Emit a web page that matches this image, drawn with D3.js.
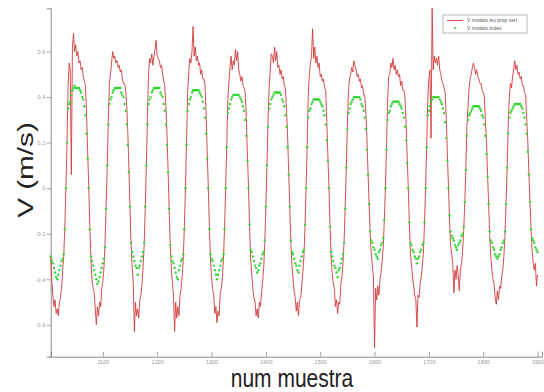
<!DOCTYPE html>
<html>
<head>
<meta charset="utf-8">
<script src="https://d3js.org/d3.v7.min.js"></script>
<style>
  body { margin: 0; background: #fff; }
  svg { display: block; font-family: "Liberation Sans", Arial, sans-serif; }
</style>
</head>
<body>
<div id="chart"></div>
<script>
const width = 544;
const height = 392;

// sample number (x) : one reading every 2 samples
const muestra = d3.range(1004, 1901, 2);

// V modelo ley prop vert (red line), m/s
const vLey = [
  -.30, -.41, -.47, -.52, -.49, -.55, -.53, -.56, -.50, -.48, -.44, -.36, -.30, -.17,
  .00, .20, .45, .55, .52, .06, .62, .68, .60, .63, .58, .60, .55, .56, .52, .53, .49, .47, .45, .33, .16, .01,
  -.17, -.31, -.40, -.44, -.46, -.53, -.60, -.52, -.56, -.50, -.52, -.44, -.41, -.35, -.24, -.08,
  .09, .29, .46, .50, .55, .60, .57, .58, .55, .56, .53, .54, .51, .52, .48, .46, .46, .43, .36, .24, .08,
  -.09, -.25, -.35, -.42, -.63, -.50, -.56, -.53, -.57, -.49, -.47, -.42, -.35, -.25, -.09,
  .09, .31, .50, .57, .55, .59, .54, .58, .61, .65, .58, .57, .56, .53, .54, .50, .47, .45, .36, .24, .08,
  -.09, -.25, -.35, -.42, -.47, -.63, -.50, -.57, -.52, -.56, -.47, -.44, -.39, -.31, -.17,
  .00, .20, .42, .50, .57, .55, .60, .71, .58, .62, .56, .58, .54, .55, .50, .52, .48, .48, .45, .33, .16, .01,
  -.17, -.31, -.39, -.44, -.47, -.55, -.52, -.59, -.54, -.56, -.46, -.44, -.39, -.31, -.17,
  .00, .19, .39, .47, .53, .58, .52, .56, .54, .61, .56, .60, .52, .50, .47, .49, .45, .44, .42, .31, .15, .01,
  -.17, -.31, -.38, -.44, -.48, -.50, -.56, -.53, -.57, -.50, -.52, -.46, -.41, -.35, -.24, -.08,
  .09, .30, .44, .52, .59, .58, .55, .62, .56, .60, .53, .54, .50, .52, .48, .49, .45, .44, .34, .23, .07,
  -.08, -.24, -.34, -.40, -.45, -.48, -.54, -.50, -.56, -.49, -.48, -.43, -.37, -.30, -.17,
  .00, .19, .41, .50, .55, .58, .70, .57, .62, .55, .58, .53, .55, .49, .50, .47, .48, .44, .43, .30, .15, .01,
  -.16, -.30, -.37, -.42, -.44, -.52, -.49, -.55, -.50, -.51, -.42, -.39, -.33, -.23, -.08,
  .08, .28, .42, .48, .50, .53, .51, .56, .54, .52, .49, .50, .47, .48, .44, .45, .41, .41, .33, .22, .07,
  -.07, -.20, -.29, -.34, -.39, -.70, -.44, -.49, -.43, -.47, -.40, -.37, -.32, -.26, -.14,
  .00, .18, .38, .49, .50, .55, .53, .57, .52, .54, .50, .52, .49, .50, .45, .47, .43, .43, .40, .29, .14, .01,
  -.15, -.28, -.34, -.39, -.43, -.47, -.49, -.61, -.47, -.48, -.42, -.39, -.34, -.28, -.15,
  .00, .19, .39, .48, .52, .22, .79, .52, .58, .55, .57, .54, .58, .52, .50, .47, .46, .44, .42, .31, .15, .01,
  -.14, -.25, -.29, -.33, -.46, -.36, -.40, -.34, -.38, -.45, -.36, -.33, -.28, -.19, -.07,
  .08, .27, .36, .44, .48, .50, .53, .55, .53, .50, .52, .49, .48, .46, .46, .43, .42, .40, .30, .20, .06,
  -.07, -.21, -.30, -.36, -.40, -.42, -.48, -.51, -.45, -.49, -.43, -.44, -.39, -.36, -.30, -.21, -.07,
  .08, .28, .40, .46, .44, .49, .52, .56, .52, .54, .50, .51, .48, .49, .45, .45, .42, .41, .31, .21, .07,
  -.06, -.18, -.27, -.33, -.36, -.33, -.43, -.38
];

// V modelo index (green dots), m/s
const vIndex = [
  -.30, -.32, -.33, -.35, -.37, -.39, -.40, -.38, -.36, -.34, -.32, -.31, -.29, -.18,
  .00, .20, .35, .37, .38, .41, .43, .44, .45, .44, .44, .44, .44, .43, .42, .40, .39, .36, .32, .24, .13, .00,
  -.18, -.30, -.32, -.34, -.36, -.38, -.40, -.42, -.41, -.39, -.37, -.35, -.33, -.31, -.26, -.09,
  .10, .28, .37, .39, .40, .42, .43, .44, .44, .44, .44, .44, .44, .42, .41, .40, .37, .34, .28, .19, .07,
  -.08, -.24, -.28, -.30, -.32, -.34, -.35, -.38, -.35, -.34, -.32, -.30, -.28, -.24, -.08,
  .10, .28, .37, .39, .40, .42, .43, .44, .44, .44, .44, .44, .44, .42, .41, .40, .37, .34, .28, .19, .07,
  -.09, -.25, -.30, -.32, -.33, -.35, -.37, -.39, -.40, -.36, -.34, -.32, -.31, -.29, -.18,
  .00, .19, .34, .37, .39, .40, .42, .43, .43, .43, .43, .43, .43, .42, .41, .40, .38, .35, .31, .24, .13, .00,
  -.18, -.29, -.31, -.32, -.34, -.36, -.38, -.40, -.38, -.36, -.34, -.32, -.31, -.29, -.18,
  .00, .18, .33, .35, .37, .39, .40, .41, .41, .41, .41, .41, .41, .40, .39, .38, .36, .34, .30, .23, .12, .00,
  -.16, -.27, -.28, -.30, -.32, -.34, -.35, -.37, -.36, -.34, -.33, -.31, -.29, -.28, -.23, -.08,
  .10, .27, .35, .37, .39, .40, .41, .42, .42, .42, .42, .42, .42, .41, .39, .38, .36, .32, .27, .18, .06,
  -.08, -.23, -.28, -.29, -.31, -.33, -.34, -.36, -.37, -.34, -.32, -.30, -.28, -.27, -.16,
  .00, .18, .31, .34, .35, .37, .38, .39, .39, .39, .39, .39, .39, .38, .37, .36, .34, .32, .28, .21, .12, .00,
  -.17, -.28, -.30, -.32, -.34, -.35, -.37, -.39, -.36, -.35, -.33, -.31, -.29, -.24, -.09,
  .09, .26, .33, .35, .37, .38, .39, .40, .40, .40, .40, .40, .40, .39, .37, .36, .34, .31, .26, .17, .06,
  -.07, -.19, -.23, -.24, -.26, -.27, -.29, -.30, -.31, -.28, -.27, -.25, -.24, -.22, -.14,
  .00, .17, .30, .33, .34, .36, .37, .38, .38, .38, .38, .38, .38, .37, .36, .35, .33, .31, .27, .21, .11, .00,
  -.15, -.24, -.25, -.27, -.28, -.30, -.31, -.33, -.31, -.30, -.28, -.27, -.25, -.24, -.15,
  .00, .18, .32, .34, .36, .38, .39, .40, .40, .40, .40, .40, .40, .39, .38, .37, .35, .33, .29, .22, .12, .00,
  -.12, -.19, -.21, -.22, -.23, -.25, -.26, -.27, -.25, -.24, -.23, -.21, -.20, -.17, -.06,
  .08, .23, .30, .32, .33, .34, .35, .36, .36, .36, .36, .36, .36, .35, .34, .32, .31, .28, .23, .15, .05,
  -.07, -.19, -.23, -.24, -.26, -.27, -.29, -.30, -.31, -.30, -.29, -.27, -.26, -.24, -.23, -.19, -.07,
  .09, .24, .31, .33, .34, .35, .36, .37, .37, .37, .37, .37, .37, .36, .35, .33, .31, .28, .24, .16, .06,
  -.06, -.18, -.22, -.23, -.24, -.26, -.27, -.28
];

const xTicks = [1100, 1200, 1300, 1400, 1500, 1600, 1700, 1800, 1900];
const yTicks = [-0.6, -0.4, -0.2, 0, 0.2, 0.4, 0.6];
const seriesNames = ["V modelo ley prop vert", "V modelo index"];

const red = "#d23a3a";
const green = "#33d633";
const axisGray = "#8a8a8a";

const svg = d3.select("#chart").append("svg")
    .attr("width", width)
    .attr("height", height);

const x = d3.scaleLinear().domain([1004, 1908]).range([50.7, 541.9]);
const y = d3.scaleLinear().domain([-0.74, 0.79]).range([356.7, 8.3]);

// axes
const xAxis = d3.axisBottom(x)
    .tickValues(xTicks)
    .tickSize(-5)
    .tickPadding(3)
    .tickFormat(d3.format("d"));

const yAxis = d3.axisLeft(y)
    .tickValues(yTicks)
    .tickSize(4)
    .tickPadding(1.5)
    .tickFormat(d => d === 0 ? "0" : d.toFixed(1));

function styleAxis(g) {
    g.select(".domain").attr("stroke", axisGray).attr("stroke-width", 1);
    g.selectAll(".tick line").attr("stroke", axisGray).attr("stroke-width", 0.8);
    g.selectAll(".tick text")
        .attr("fill", "#9a9a9a")
        .attr("font-size", "5.5px");
}

svg.append("g")
    .attr("transform", `translate(0,${y.range()[0]})`)
    .call(xAxis)
    .call(styleAxis);

svg.append("g")
    .attr("transform", `translate(${x.range()[0]},0)`)
    .call(yAxis)
    .call(styleAxis);

// series
const points = muestra.map((m, i) => ({ m: m, ley: vLey[i], idx: vIndex[i] }));

const line = d3.line()
    .x(d => x(d.m))
    .y(d => y(d.ley));

svg.append("path")
    .datum(points)
    .attr("fill", "none")
    .attr("stroke", red)
    .attr("stroke-width", 0.9)
    .attr("d", line);

svg.append("g")
    .selectAll("circle")
    .data(points)
    .enter().append("circle")
    .attr("cx", d => x(d.m))
    .attr("cy", d => y(d.idx))
    .attr("r", 1.2)
    .attr("fill", green);

// legend
const legend = svg.append("g").attr("transform", "translate(443,15)");
legend.append("rect")
    .attr("width", 84)
    .attr("height", 18)
    .attr("fill", "#fff")
    .attr("stroke", "#999")
    .attr("stroke-width", 0.7);
legend.append("line")
    .attr("x1", 4).attr("x2", 20)
    .attr("y1", 5.5).attr("y2", 5.5)
    .attr("stroke", red)
    .attr("stroke-width", 0.9);
legend.append("circle")
    .attr("cx", 12).attr("cy", 13)
    .attr("r", 1.1)
    .attr("fill", green);
legend.selectAll("text")
    .data(seriesNames)
    .enter().append("text")
    .attr("x", 24)
    .attr("y", (d, i) => 7.3 + i * 7.5)
    .attr("font-size", "5px")
    .attr("fill", "#555")
    .text(d => d);

// axis titles
svg.append("text")
    .attr("transform", "translate(292,387) scale(1,1.2)")
    .attr("text-anchor", "middle")
    .attr("font-size", "21px")
    .attr("fill", "#222")
    .text("num muestra");

svg.append("text")
    .attr("transform", "translate(33,170) rotate(-90) scale(1.35,1)")
    .attr("text-anchor", "middle")
    .attr("font-size", "22px")
    .attr("fill", "#222")
    .text("V (m/s)");
</script>
</body>
</html>
